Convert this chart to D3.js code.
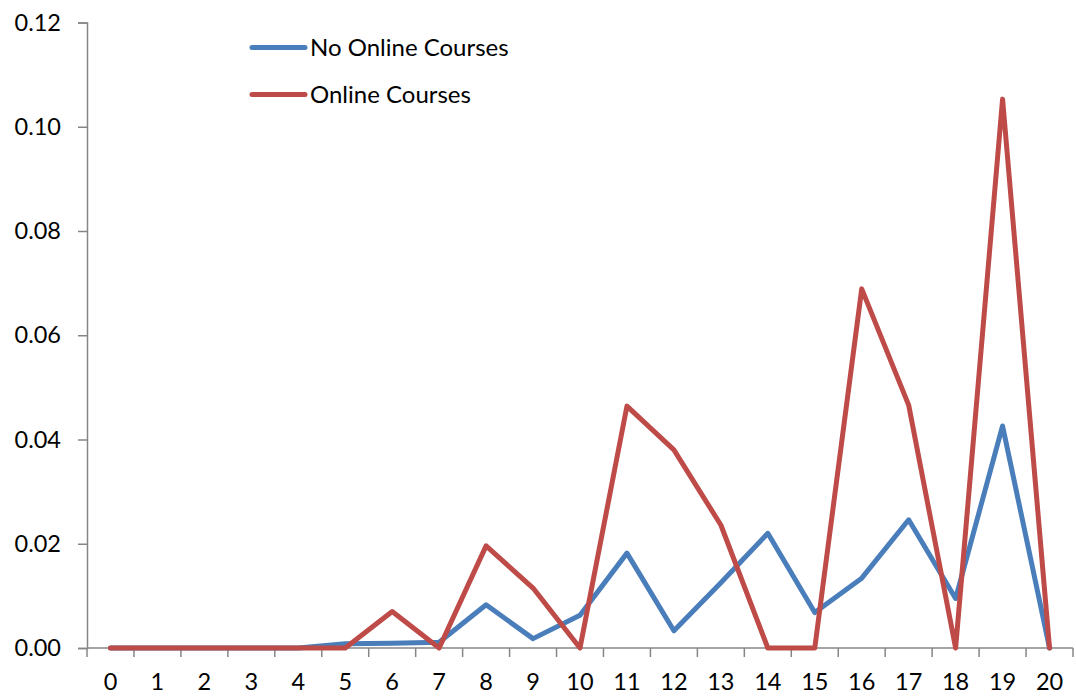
<!DOCTYPE html>
<html>
<head>
<meta charset="utf-8">
<script src="https://cdn.jsdelivr.net/npm/d3@7"></script>
<style>
  html, body { margin: 0; padding: 0; background: #fff; }
  svg { display: block; font-family: Lato, "Open Sans", sans-serif; }
</style>
</head>
<body>
<svg id="chart" width="1076" height="698"></svg>
<script>
// Categories along the x axis
const categories = d3.range(0, 21).map(String);

// Series values, one per category
const noOnline = [0, 0, 0, 0, 0, 0.0008, 0.0009, 0.0011, 0.0083, 0.0018, 0.0063,
  0.0182, 0.0033, 0.0125, 0.0220, 0.0068, 0.0134, 0.0246, 0.0095, 0.0426, 0];
const online = [0, 0, 0, 0, 0, 0, 0.0070, 0, 0.0196, 0.0115, 0,
  0.0464, 0.0380, 0.0236, 0, 0, 0.0689, 0.0466, 0, 0.1053, 0];

// Y tick values
const yTicks = [0, 0.02, 0.04, 0.06, 0.08, 0.10, 0.12];

const seriesNames = ["No Online Courses", "Online Courses"];
const seriesColors = ["#4a7ebb", "#be4b48"];

const svg = d3.select("#chart");
const plot = { left: 87, right: 1073, top: 22.5, bottom: 648 };

const x = d3.scaleBand().domain(categories).range([plot.left, plot.right]);
const y = d3.scaleLinear().domain([0, 0.12]).range([plot.bottom, plot.top]);

const axisColor = "#868686";
const tickFont = 23.5;

// Y axis
const yAxis = svg.append("g")
  .attr("transform", `translate(${plot.left},0)`)
  .call(d3.axisLeft(y).tickValues(yTicks).tickFormat(d3.format(".2f")).tickSize(9).tickPadding(17));
yAxis.select(".domain").attr("stroke", axisColor).attr("stroke-width", 1.5);
yAxis.selectAll(".tick line").attr("stroke", axisColor).attr("stroke-width", 1.5);
yAxis.selectAll(".tick text").attr("font-size", tickFont).attr("fill", "#000")
  .attr("font-family", "Lato, 'Open Sans', sans-serif");

// X axis: ticks at category boundaries, labels centred in each band
const xg = svg.append("g").attr("transform", `translate(0,${plot.bottom})`);
xg.append("line").attr("x1", plot.left).attr("x2", plot.right).attr("y1", 0).attr("y2", 0)
  .attr("stroke", axisColor).attr("stroke-width", 1.5);
const boundaries = categories.map(c => x(c)).concat([x(categories[categories.length - 1]) + x.bandwidth()]);
xg.selectAll("line.tk").data(boundaries).join("line").attr("class", "tk")
  .attr("x1", d => d).attr("x2", d => d).attr("y1", 0).attr("y2", 9)
  .attr("stroke", axisColor).attr("stroke-width", 1.5);
xg.selectAll("text").data(categories).join("text")
  .attr("x", d => x(d) + x.bandwidth() / 2).attr("y", 42)
  .attr("text-anchor", "middle").attr("font-size", tickFont).attr("fill", "#000")
  .text(d => d);

// Lines
const line = d3.line()
  .x((d, i) => x(categories[i]) + x.bandwidth() / 2)
  .y(d => y(d));

[noOnline, online].forEach((vals, k) => {
  svg.append("path").datum(vals)
    .attr("d", line)
    .attr("fill", "none")
    .attr("stroke", seriesColors[k])
    .attr("stroke-width", 5)
    .attr("stroke-linejoin", "round")
    .attr("stroke-linecap", "round");
});

// Legend
const legend = svg.append("g");
seriesNames.forEach((name, k) => {
  const ly = 47.5 + k * 47;
  legend.append("line").attr("x1", 252).attr("x2", 305).attr("y1", ly).attr("y2", ly)
    .attr("stroke", seriesColors[k]).attr("stroke-width", 5).attr("stroke-linecap", "round");
  legend.append("text").attr("x", 310).attr("y", ly + 8.5)
    .attr("font-size", 24).attr("fill", "#000").text(name);
});
</script>
</body>
</html>
